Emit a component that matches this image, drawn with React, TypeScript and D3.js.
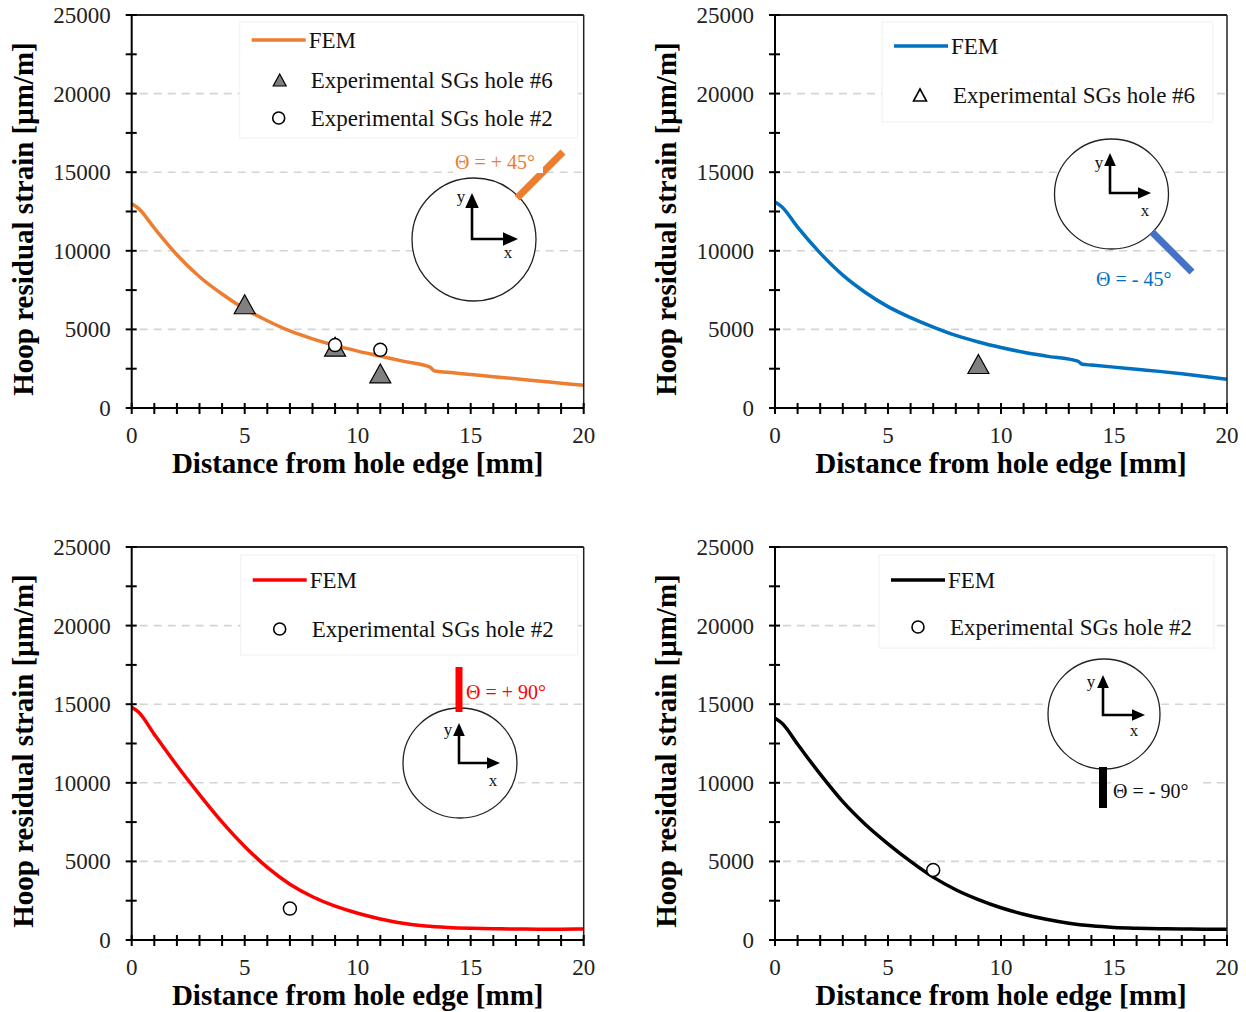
import React from 'react'
import * as d3 from 'd3'

// FEM curves (distance [mm] -> hoop residual strain [µm/m])
const xFemA = [0, 0.3, 1, 2, 3, 4, 5, 6, 7, 8, 9, 10, 11, 12, 13.2, 13.4, 14, 15, 16, 17, 18, 19, 20]
const femA = [13000, 12700, 11450, 9750, 8350, 7250, 6300, 5550, 4900, 4400, 3980, 3620, 3300, 2980, 2600, 2350, 2270, 2130, 1990, 1860, 1720, 1580, 1440]

const xFemB = [0, 0.3, 1, 2, 3, 4, 5, 6, 7, 8, 9, 10, 11, 12, 13.4, 13.6, 14, 15, 16, 17, 18, 19, 20]
const femB = [13100, 12800, 11500, 9850, 8450, 7350, 6450, 5750, 5150, 4620, 4200, 3850, 3550, 3300, 2980, 2780, 2730, 2600, 2460, 2330, 2180, 2010, 1825]

const xFemCD = [0, 0.3, 1, 2, 3, 4, 5, 6, 7, 8, 9, 10, 11, 12, 13, 14, 15, 16, 17, 18, 19, 20]
const femC = [14800, 14500, 13080, 11100, 9250, 7500, 5950, 4620, 3550, 2750, 2150, 1700, 1340, 1060, 890, 800, 750, 720, 700, 690, 690, 700]
const femD = [14100, 13800, 12450, 10550, 8800, 7350, 6120, 5000, 4000, 3200, 2570, 2050, 1640, 1320, 1070, 900, 800, 750, 720, 700, 690, 690]

// experimental strain gauges
const hole6AX = [5, 9, 11]
const hole6A = [6600, 3900, 2200]
const hole2AX = [9, 11]
const hole2A = [4000, 3700]
const hole6BX = [9]
const hole6B = [2800]
const hole2CX = [7]
const hole2C = [2000]
const hole2DX = [7]
const hole2D = [4450]

const yTickLabels = [0, 5000, 10000, 15000, 20000, 25000]
const xTickLabels = [0, 5, 10, 15, 20]

const FONT = "'Liberation Serif', 'Times New Roman', serif"
const W = 452
const H = 393

const zip = (xs, ys) => xs.map((x, i) => ({ x, y: ys[i] }))

function Triangle({ x, y, w, h, fill, stroke = '#000', sw = 1.2 }) {
    const p = [[x, y - h / 2], [x + w / 2, y + h / 2], [x - w / 2, y + h / 2]]
    return <polygon points={p.map(d => d.join(',')).join(' ')} fill={fill} stroke={stroke} strokeWidth={sw} />
}

function Panel({ left, top, fem, color, tri, circ, legend }) {
    const x = d3.scaleLinear().domain([0, 20]).range([0, W])
    const y = d3.scaleLinear().domain([0, 25000]).range([H, 0])
    const line = d3.line().x(d => x(d.x)).y(d => y(d.y)).curve(d3.curveMonotoneX)
    const minorY = d3.range(0, 25001, 2500)
    const minorX = d3.range(0, 21, 1)
    const grid = [5000, 10000, 15000, 20000]
    const lx = legend.x, ly = legend.y
    return (
        <g transform={`translate(${left},${top})`} fontFamily={FONT}>
            {grid.map(g => (
                <line key={g} x1={8} x2={W} y1={y(g)} y2={y(g)} stroke="#d4d4d4" strokeWidth={1.6} strokeDasharray="8,6" />
            ))}
            {/* legend box */}
            <rect x={lx} y={ly} width={legend.w} height={legend.h} fill="#fff" stroke="#f0f0f0" />
            <line x1={lx + 12} x2={lx + 66} y1={ly + legend.fy} y2={ly + legend.fy} stroke={color} strokeWidth={3.5} />
            <text x={lx + 69} y={ly + legend.fy} dy="0.35em" fontSize={23} fill="#111">FEM</text>
            {legend.items.map((it, i) => (
                <g key={i}>
                    {it.sym === 'tri' && <Triangle x={lx + 40} y={it.dy + ly} w={13} h={12} fill="#7f7f7f" />}
                    {it.sym === 'otri' && <Triangle x={lx + 38} y={it.dy + ly} w={13} h={12} fill="#fff" sw={1.6} />}
                    {it.sym === 'circ' && <circle cx={lx + 39} cy={it.dy + ly} r={6} fill="#fff" stroke="#000" strokeWidth={1.6} />}
                    <text x={lx + 71} y={it.dy + ly} dy="0.35em" fontSize={23} fill="#111">{it.label}</text>
                </g>
            ))}
            <path d={line(fem)} fill="none" stroke={color} strokeWidth={3.5} />
            {tri.map((d, i) => <Triangle key={'t' + i} x={x(d.x)} y={y(d.y)} w={21} h={19} fill="#808080" />)}
            {circ.map((d, i) => <circle key={'c' + i} cx={x(d.x)} cy={y(d.y)} r={6.5} fill="#fff" stroke="#000" strokeWidth={1.5} />)}
            {/* frame */}
            <line x1={0} x2={W} y1={0} y2={0} stroke="#222" strokeWidth={2} />
            <line x1={W} x2={W} y1={0} y2={H} stroke="#222" strokeWidth={1.5} />
            <line x1={0} x2={0} y1={0} y2={H} stroke="#000" strokeWidth={2} />
            <line x1={0} x2={W} y1={H} y2={H} stroke="#000" strokeWidth={2} />
            {minorY.map(v => <line key={'ym' + v} x1={-6} x2={5} y1={y(v)} y2={y(v)} stroke="#000" strokeWidth={2} />)}
            {minorX.map(v => <line key={'xm' + v} x1={x(v)} x2={x(v)} y1={H - 5} y2={H + 6} stroke="#000" strokeWidth={2} />)}
            {yTickLabels.map(v => (
                <text key={'yl' + v} x={-21} y={y(v)} dy="0.35em" textAnchor="end" fontSize={23} fill="#222">{v}</text>
            ))}
            {xTickLabels.map(v => (
                <text key={'xl' + v} x={x(v)} y={H + 35} textAnchor="middle" fontSize={23} fill="#222">{v}</text>
            ))}
            <text x={W / 2} y={H + 65} textAnchor="middle" fontSize={29} fontWeight="bold" fill="#000">Distance from hole edge [mm]</text>
            <text transform={`translate(${-99},${204}) rotate(-90)`} textAnchor="middle" fontSize={29} fontWeight="bold" fill="#000">Hoop residual strain [μm/m]</text>
        </g>
    )
}

function Inset({ cx, cy, rx, ry, ox, oy, yTip, xTip, head, yl, xl, bar, barColor, barW, label, lx, ly, lColor, lBg }) {
    const hw = head * 0.45
    return (
        <g fontFamily={FONT}>
            <ellipse cx={cx} cy={cy} rx={rx} ry={ry} fill="#fff" stroke="#222" strokeWidth={1.3} />
            <line x1={bar[0]} y1={bar[1]} x2={bar[2]} y2={bar[3]} stroke={barColor} strokeWidth={barW} />
            <path d={`M${ox},${oy}V${yTip + head}M${ox - 1.2},${oy}H${xTip - head}`} fill="none" stroke="#000" strokeWidth={2.6} />
            <polygon points={`${ox},${yTip} ${ox + hw},${yTip + head} ${ox - hw},${yTip + head}`} fill="#000" />
            <polygon points={`${xTip},${oy} ${xTip - head},${oy - hw} ${xTip - head},${oy + hw}`} fill="#000" />
            <text x={yl[0]} y={yl[1]} textAnchor="middle" fontSize={17} fill="#111">y</text>
            <text x={xl[0]} y={xl[1]} textAnchor="middle" fontSize={17} fill="#111">x</text>
            {lBg && <rect x={lx - 2} y={ly - 11} width={90} height={22} fill="#fff" />}
            <text x={lx} y={ly} dy="0.35em" fontSize={20} fill={lColor}>{label}</text>
        </g>
    )
}

export default function App() {
    const L1 = 131.7, L2 = 775, T1 = 15, T2 = 547
    return (
        <div style={{ position: 'absolute', left: 0, top: 0 }}>
            <svg width={1246} height={1012} style={{ display: 'block', background: '#fff' }}>
                <Panel left={L1} top={T1} color="#ED7D31" fem={zip(xFemA, femA)}
                    tri={zip(hole6AX, hole6A)} circ={zip(hole2AX, hole2A)}
                    legend={{ x: 108, y: 7, w: 338, h: 116, fy: 18, items: [
                        { sym: 'tri', dy: 58, label: 'Experimental SGs hole #6' },
                        { sym: 'circ', dy: 96, label: 'Experimental SGs hole #2' }] }} />
                <Panel left={L2} top={T1} color="#0070C0" fem={zip(xFemB, femB)}
                    tri={zip(hole6BX, hole6B)} circ={[]}
                    legend={{ x: 107, y: 7, w: 331, h: 100, fy: 24, items: [
                        { sym: 'otri', dy: 73, label: 'Experimental SGs hole #6' }] }} />
                <Panel left={L1} top={T2} color="#FF0000" fem={zip(xFemCD, femC)}
                    tri={[]} circ={zip(hole2CX, hole2C)}
                    legend={{ x: 109, y: 8, w: 337, h: 100, fy: 25, items: [
                        { sym: 'circ', dy: 74, label: 'Experimental SGs hole #2' }] }} />
                <Panel left={L2} top={T2} color="#000000" fem={zip(xFemCD, femD)}
                    tri={[]} circ={zip(hole2DX, hole2D)}
                    legend={{ x: 104, y: 8, w: 335, h: 93, fy: 25, items: [
                        { sym: 'circ', dy: 72, label: 'Experimental SGs hole #2' }] }} />

                <Inset cx={474} cy={239.5} rx={62} ry={61.5} ox={472} oy={239} yTip={193} xTip={518} head={15}
                    yl={[461, 202]} xl={[508, 258]} bar={[517, 198, 563, 152]} barColor="#ED7D31" barW={7}
                    label="Θ = + 45°" lx={455} ly={162} lColor="#ED7D31" lBg />
                <Inset cx={1111.5} cy={194} rx={57} ry={55} ox={1110} oy={193} yTip={153} xTip={1151} head={13}
                    yl={[1099, 168]} xl={[1145, 216]} bar={[1152, 232, 1192, 272]} barColor="#4472C4" barW={7}
                    label="Θ = - 45°" lx={1096} ly={279} lColor="#0070C0" />
                <Inset cx={460} cy={763} rx={57} ry={55} ox={459} oy={763} yTip={723} xTip={500} head={13}
                    yl={[448, 735]} xl={[493, 786]} bar={[459, 667, 459, 712]} barColor="#FF0000" barW={7}
                    label="Θ = + 90°" lx={466} ly={692} lColor="#FF0000" />
                <Inset cx={1104} cy={714} rx={56} ry={55} ox={1103} oy={715} yTip={675} xTip={1145} head={13}
                    yl={[1091, 687]} xl={[1134, 736]} bar={[1103, 767, 1103, 808]} barColor="#000" barW={8}
                    label="Θ = - 90°" lx={1113} ly={791} lColor="#111" lBg />
            </svg>
        </div>
    )
}
